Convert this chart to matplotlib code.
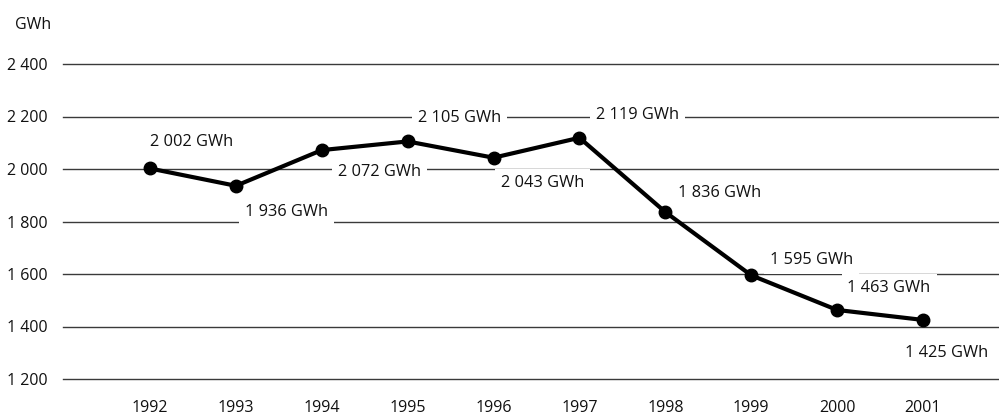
import matplotlib
matplotlib.use("Agg")
import matplotlib.pyplot as plt

plt.rcParams['font.family'] = ['Open Sans', 'DejaVu Sans']

years = [1992, 1993, 1994, 1995, 1996, 1997, 1998, 1999, 2000, 2001]
values = [2002, 1936, 2072, 2105, 2043, 2119, 1836, 1595, 1463, 1425]
labels = ["2 002 GWh", "1 936 GWh", "2 072 GWh", "2 105 GWh", "2 043 GWh",
          "2 119 GWh", "1 836 GWh", "1 595 GWh", "1 463 GWh", "1 425 GWh"]
# label offsets in pixels relative to each point (dx, dy)
label_offsets = [(42, 26), (51, -26), (58, -22), (52, 23), (49, -25),
                 (58, 23), (54, 19), (60, 15), (52, 22), (24, -33)]
yticks = [1200, 1400, 1600, 1800, 2000, 2200, 2400]
ytick_labels = ["1 200", "1 400", "1 600", "1 800", "2 000", "2 200", "2 400"]

FS = 11.8

fig = plt.figure(figsize=(9.99, 4.16), dpi=100)
ax = fig.add_axes([63/999, 37/416, 1 - 63/999, (379-64)/416])
ax.set_xlim(1990.987, 2001.885)
ax.set_ylim(1200, 2400)

for y in yticks:
    ax.axhline(y, color='#3a3a3a', lw=1.0, zorder=1, clip_on=False)

ax.plot(years, values, color='black', lw=3.0, marker='o', ms=9,
        zorder=3, clip_on=False, solid_joinstyle='miter')

for x, y, t, (dx, dy) in zip(years, values, labels, label_offsets):
    ax.annotate(t, (x, y), xytext=(dx, dy), textcoords='offset pixels',
                ha='center', va='center', fontsize=FS, color='#111111',
                bbox=dict(boxstyle='square,pad=0.36', fc='white', ec='none'),
                zorder=2)

ax.set_yticks(yticks)
ax.set_yticklabels(ytick_labels)
ax.set_xticks(years)
ax.set_xticklabels([str(y) for y in years])
ax.tick_params(axis='both', length=0, labelsize=FS - 0.3, colors='#111111')
ax.tick_params(axis='y', pad=11)
ax.tick_params(axis='x', pad=15)
for s in ax.spines.values():
    s.set_visible(False)

fig.text(33/999, 1 - 25/416, "GWh", ha='center', va='center', fontsize=FS - 0.3,
         color='#111111')

fig.savefig("out.png", dpi=100)
